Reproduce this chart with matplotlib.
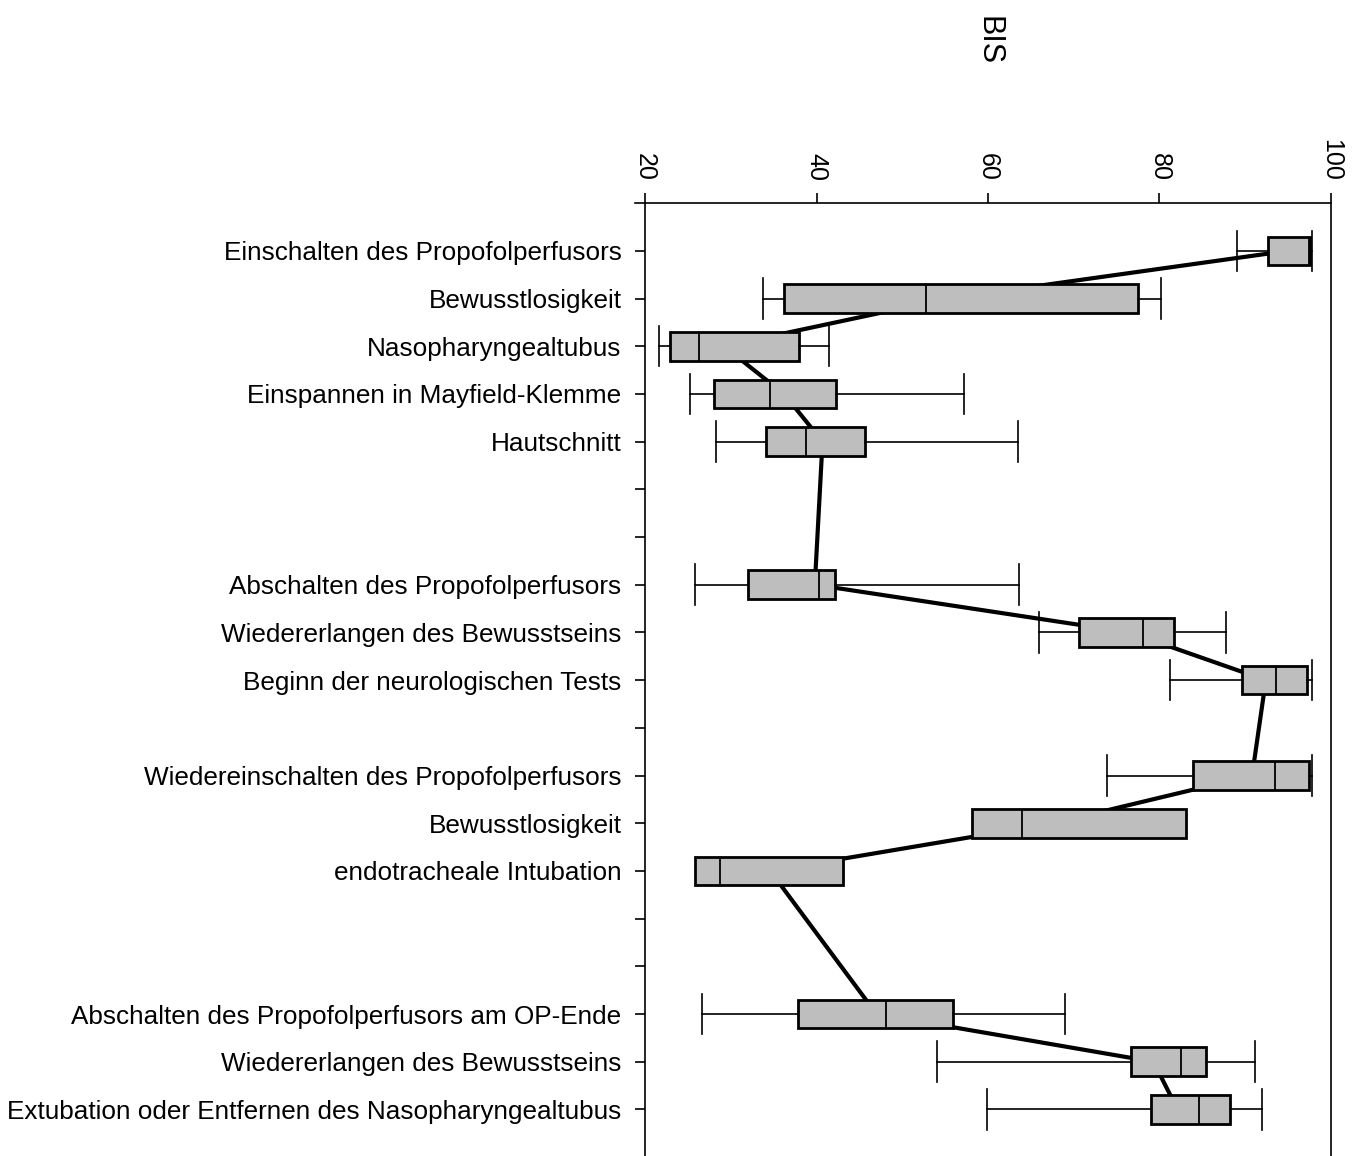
import matplotlib
matplotlib.use("Agg")
import matplotlib.pyplot as plt

plt.rcParams['font.family'] = ['Liberation Sans', 'DejaVu Sans']

# ---- data ----
row_labels = [
    "Einschalten des Propofolperfusors", "Bewusstlosigkeit", "Nasopharyngealtubus",
    "Einspannen in Mayfield-Klemme", "Hautschnitt", "", "",
    "Abschalten des Propofolperfusors", "Wiedererlangen des Bewusstseins",
    "Beginn der neurologischen Tests", "",
    "Wiedereinschalten des Propofolperfusors", "Bewusstlosigkeit",
    "endotracheale Intubation", "", "",
    "Abschalten des Propofolperfusors am OP-Ende", "Wiedererlangen des Bewusstseins",
    "Extubation oder Entfernen des Nasopharyngealtubus",
]
box_rows = [0, 1, 2, 3, 4, 7, 8, 9, 11, 12, 13, 16, 17, 18]
whislo = [89.0, 33.8, 21.6, 25.2, 28.3, 25.8, 66.0, 81.2, 73.9, 58.1, 25.8, 26.6, 54.1, 59.9]
q1     = [92.7, 36.2, 22.9, 28.0, 34.1, 32.0, 70.6, 89.6, 83.9, 58.1, 25.8, 37.8, 76.7, 79.0]
med    = [97.4, 52.8, 26.3, 34.6, 38.8, 40.3, 78.1, 93.6, 93.5, 64.0, 28.7, 48.1, 82.5, 84.6]
q3     = [97.5, 77.5, 38.0, 42.3, 45.7, 42.2, 81.7, 97.2, 97.4, 83.1, 43.1, 55.9, 85.4, 88.2]
whishi = [97.8, 80.2, 41.5, 57.2, 63.5, 63.6, 87.7, 97.8, 97.8, 83.1, 43.1, 69.0, 91.1, 92.0]
means  = [95.0, 55.3, 29.2, 36.2, 40.7, 39.8, 76.5, 92.4, 90.8, 67.6, 34.6, 47.0, 79.3, 82.1]
x_ticks = [20, 40, 60, 80, 100]
x_label = "BIS"

# ---- figure ----
fig = plt.figure(figsize=(13.54, 11.56), dpi=100)
ax = fig.add_axes([0.4764, -0.001, 0.5066, 0.8253])

stats_w, pos_w, stats_n, pos_n = [], [], [], []
for i, r in enumerate(box_rows):
    s = dict(whislo=whislo[i], q1=q1[i], med=med[i], q3=q3[i], whishi=whishi[i], fliers=[])
    if whislo[i] < q1[i] or whishi[i] > q3[i]:
        stats_w.append(s); pos_w.append(r)
    else:
        stats_n.append(s); pos_n.append(r)

common = dict(vert=False, widths=0.6, patch_artist=True, manage_ticks=False,
              boxprops=dict(facecolor='#bebebe', edgecolor='black', linewidth=2.0),
              medianprops=dict(color='black', linewidth=1.3),
              whiskerprops=dict(color='black', linewidth=1.2),
              capprops=dict(color='black', linewidth=1.2),
              zorder=3)
ax.bxp(stats_w, positions=pos_w, capwidths=0.85, **common)
ax.bxp(stats_n, positions=pos_n, showcaps=False, **common)

ax.plot(means, box_rows, color='black', linewidth=3.0, zorder=2, solid_capstyle='butt')

ax.set_xlim(20, 100)
ax.set_ylim(19, -1)
ax.set_yticks(range(len(row_labels)))
ax.set_yticklabels(row_labels, fontsize=18.8)
ax.set_xticks(x_ticks)
ax.set_xticklabels([str(t) for t in x_ticks], fontsize=18)
ax.xaxis.tick_top()
ax.xaxis.set_label_position('top')
ax.tick_params(axis='x', labelrotation=-90, length=7, width=1.2, pad=9)
ax.tick_params(axis='y', length=7, width=1.2, pad=10)
ax.set_xlabel(x_label, fontsize=22, rotation=-90, labelpad=58)

ax.spines['bottom'].set_visible(False)
for sp in ['top', 'left', 'right']:
    ax.spines[sp].set_linewidth(1.2)
# axis line extension to the left like the original
ax.plot([-0.0146, 0], [1, 1], transform=ax.transAxes, color='black', lw=1.2, clip_on=False)

fig.savefig("out.png", dpi=100)
